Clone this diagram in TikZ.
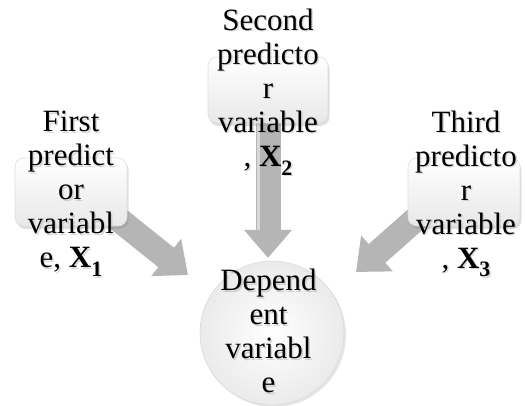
\documentclass[tikz,border=0pt]{standalone}
\usepackage{fontspec}
\setmainfont{Liberation Serif}
\usetikzlibrary{arrows.meta,calc,shadows,backgrounds}
\newcommand{\mysub}[1]{\raisebox{-0.28em}{\fontsize{22}{22}\selectfont\bfseries #1}}
\begin{document}
\begin{tikzpicture}[x=1pt,y=-1pt,
  box/.style={draw=gray!25, line width=0.6pt, rounded corners=9pt,
    minimum width=112pt, minimum height=68pt, inner sep=0pt,
    top color=white, bottom color=gray!18,
    drop shadow={shadow xshift=1.5pt, shadow yshift=-3pt, opacity=0.25, fill=gray}},
  circ/.style={circle, draw=gray!30, line width=0.6pt, minimum size=144pt, inner sep=0pt,
    inner color=white, outer color=gray!16,
    drop shadow={shadow xshift=2pt, shadow yshift=-2pt, opacity=0.2, fill=gray}},
  txt/.style={align=center, font=\fontsize{31}{34}\selectfont, inner sep=0pt},
  tshadow/.style={txt, text=gray, opacity=0.3},
  bigarrow/.style={line width=25pt, draw=gray!58, -{Triangle[width=46pt,length=28pt]}},
  hilite/.style={line width=3pt, draw=gray!30, shorten >=28pt},
]
\useasboundingbox (0,0) rectangle (525,406);

\coordinate (t1) at (188,275);
\coordinate (t2) at (268,258);
\coordinate (t3) at (356,272);
\coordinate (h2s) at (258,100);
\coordinate (h2e) at (258,258);

\node[box] (b1) at (71,192) {};
\node[box, minimum width=120pt, minimum height=66pt] (b2) at (268,90) {};
\node[box] (b3) at (464,192) {};
\node[circ] (dep) at (272,333) {};

\begin{scope}[on background layer]
  \draw[bigarrow] ($(t1)!1.6!(b1.south east)$) -- (t1);
  \draw[bigarrow] (b2.center) -- (t2);
  \draw[bigarrow] ($(t3)!1.5!(b3.south west)$) -- (t3);
  \draw[hilite] (h2s) -- (h2e);
\end{scope}

% text shadows
\node[tshadow] at (72.5,195.5) {First\\predict\\or\\variabl\\e, \textbf{X}\mysub{1}};
\node[tshadow] at (269.5,93.5) {Second\\predicto\\r\\variable\\, \textbf{X}\mysub{2}};
\node[tshadow] at (467.5,195.5) {Third\\predicto\\r\\variable\\, \textbf{X}\mysub{3}};
\node[tshadow] at (270,332.5) {Depend\\ent\\variabl\\e};

\node[txt] (l1) at (71,194) {First\\predict\\or\\variabl\\e, \textbf{X}\mysub{1}};
\node[txt] (l2) at (268,92) {Second\\predicto\\r\\variable\\, \textbf{X}\mysub{2}};
\node[txt] (l3) at (466,194) {Third\\predicto\\r\\variable\\, \textbf{X}\mysub{3}};
\node[txt] (ld) at (268.5,331) {Depend\\ent\\variabl\\e};
\end{tikzpicture}
\end{document}
